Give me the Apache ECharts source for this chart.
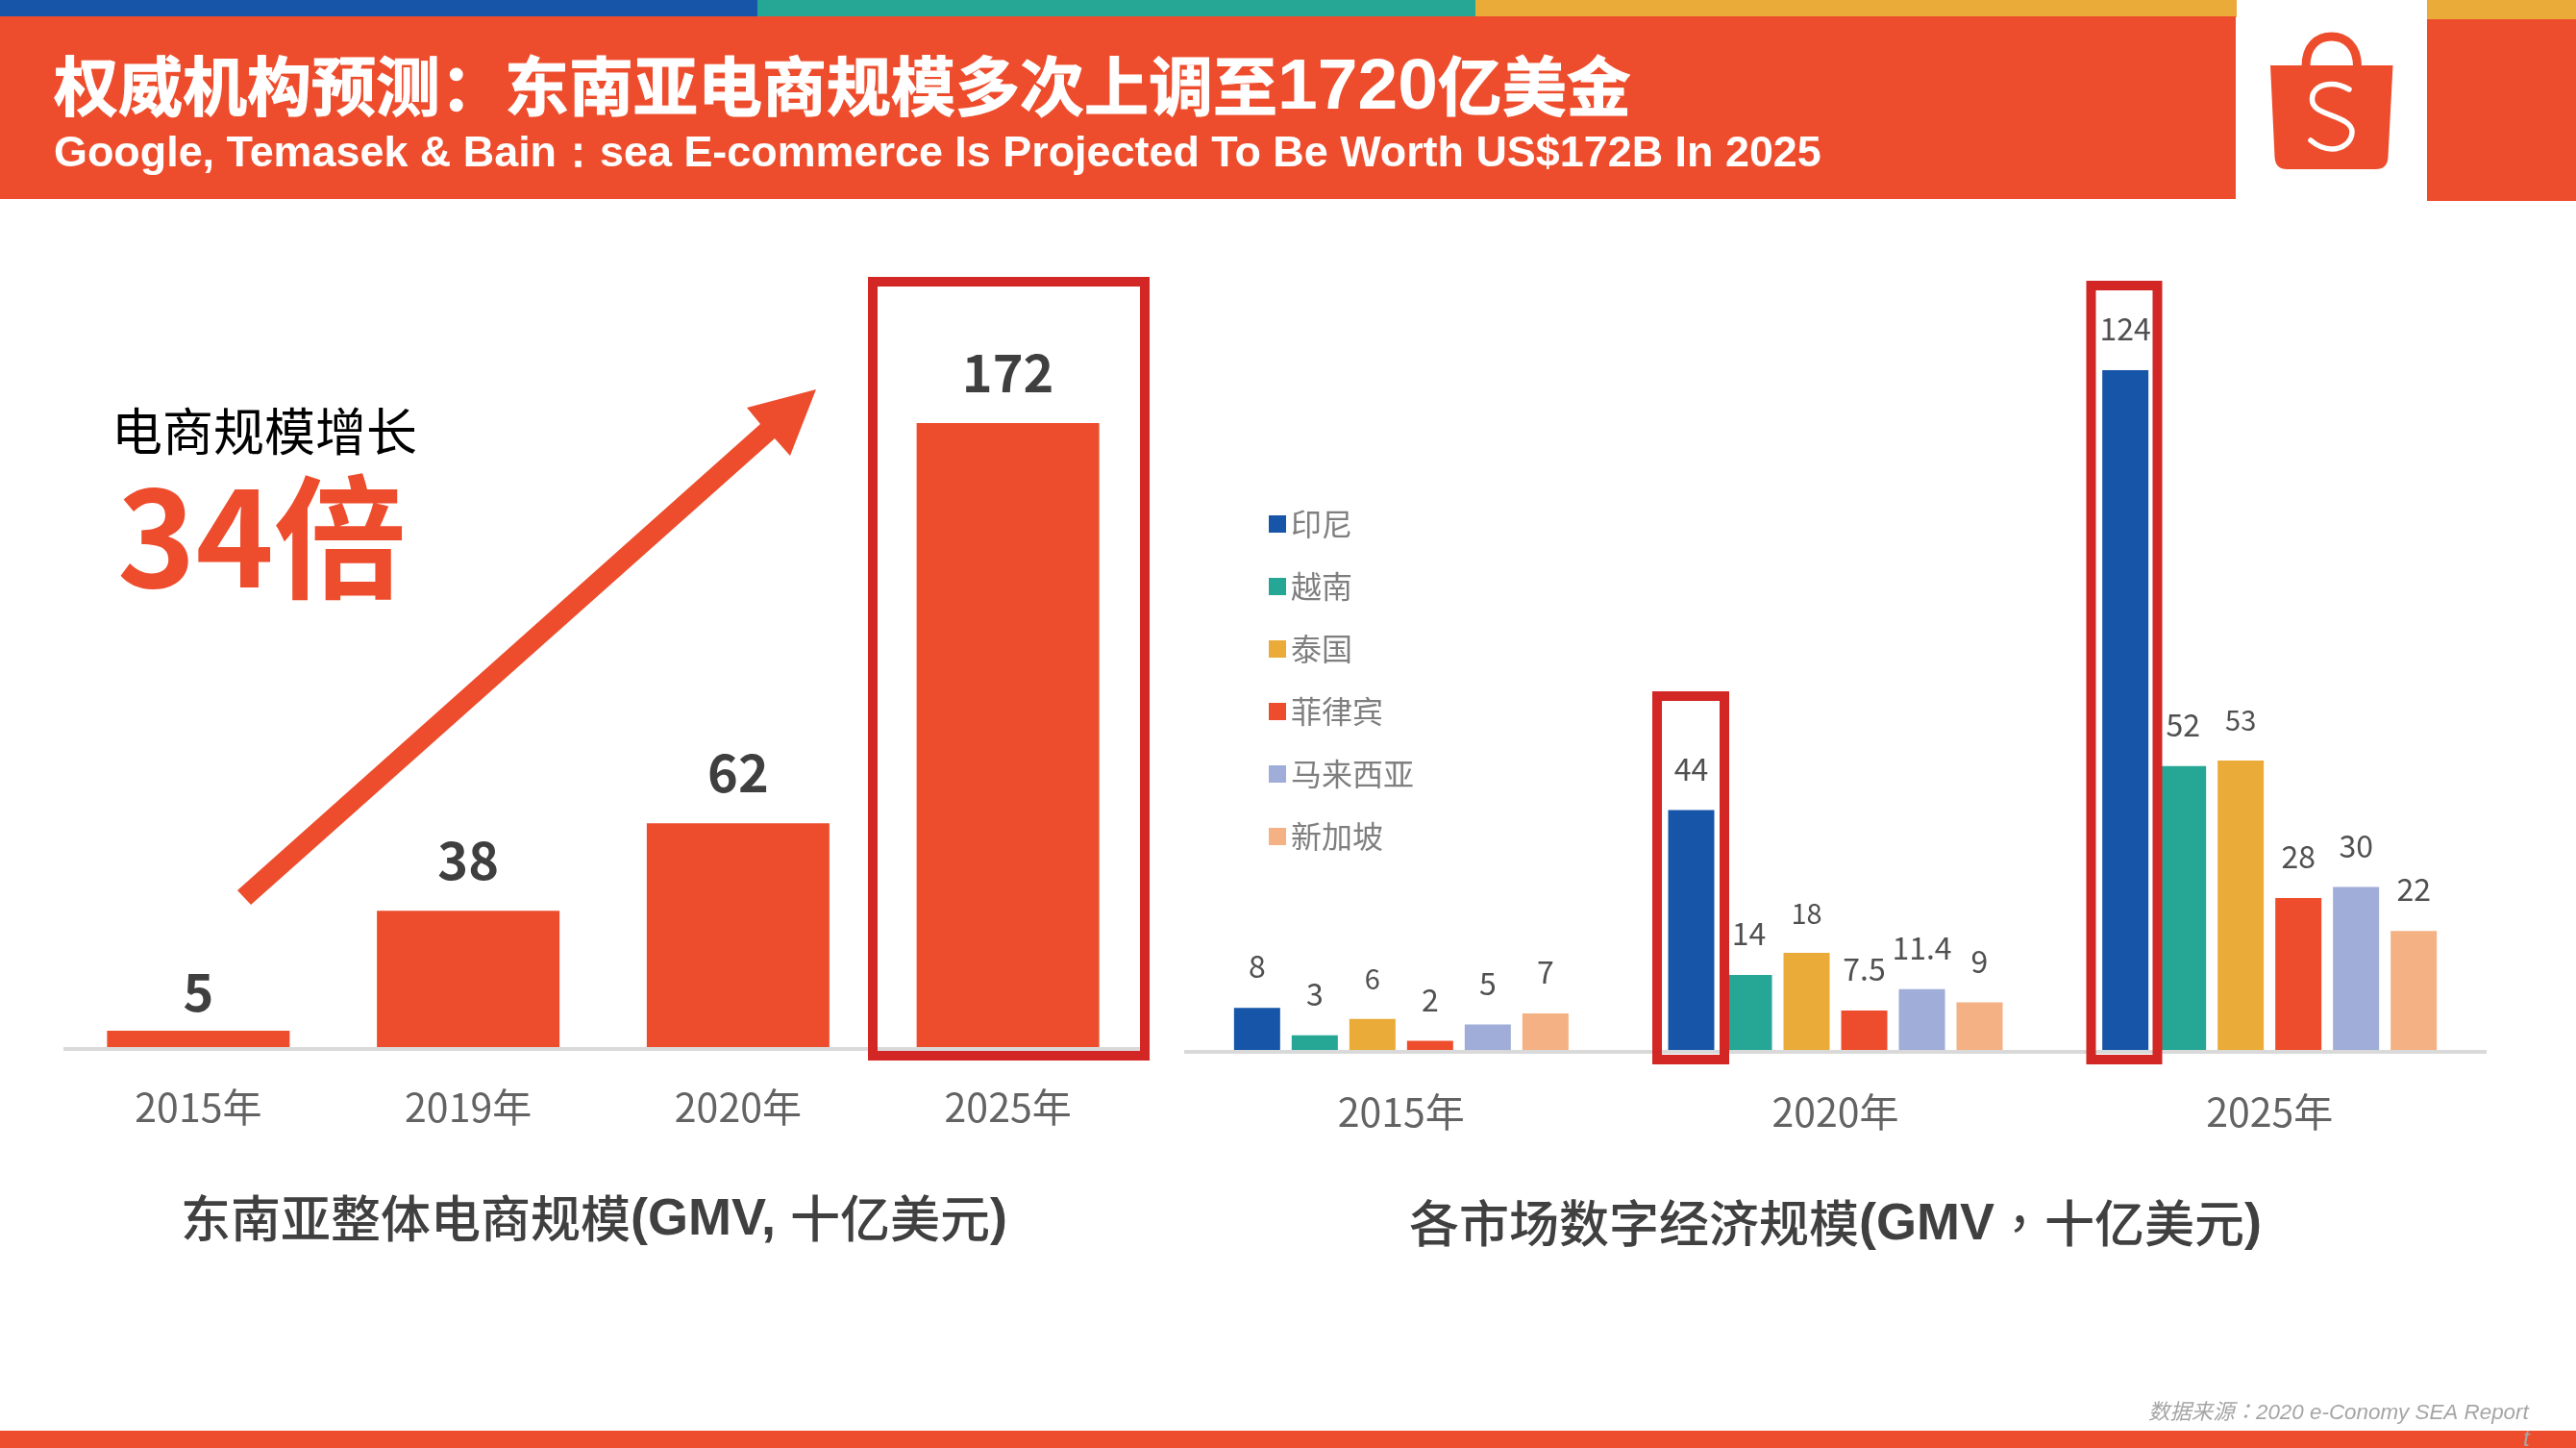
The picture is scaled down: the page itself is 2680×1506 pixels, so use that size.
<!DOCTYPE html>
<html>
<head>
<meta charset="utf-8">
<title>东南亚电商规模</title>
<style>
html, body { margin: 0; padding: 0; background: #fff; }
#chart { width: 2680px; height: 1506px; }
</style>
<script src="https://cdn.jsdelivr.net/npm/echarts@6/dist/echarts.min.js"></script>
</head>
<body>
<div id="chart"></div>
<script>
// left chart
var totalYears = ["2015年", "2019年", "2020年", "2025年"];
var totalValues = [5, 38, 62, 172];

// right chart
var marketYears = ["2015年", "2020年", "2025年"];
var marketNames = ["印尼", "越南", "泰国", "菲律宾", "马来西亚", "新加坡"];
var indonesia = [8, 44, 124];
var vietnam = [3, 14, 52];
var thailand = [6, 18, 53];
var philippines = [2, 7.5, 28];
var malaysia = [5, 11.4, 30];
var singapore = [7, 9, 22];
var marketValues = [indonesia, vietnam, thailand, philippines, malaysia, singapore];

var ORANGE = "#EE4D2D";
var RED = "#D22724";
var marketColors = ["#1755A8", "#26A695", "#EAAB38", ORANGE, "#9FADD8", "#F4B184"];
var CJK = '"Noto Sans CJK SC", "Noto Sans", sans-serif';
var LATIN = '"Liberation Sans", Arial, sans-serif';

var myChart = echarts.init(document.getElementById("chart"), null, {renderer: "canvas", width: 2680, height: 1506});

var box = function (x, y, w, h, color, z) {
    return {type: "rect", z: z || 1, silent: true, shape: {x: x, y: y, width: w, height: h}, style: {fill: color}};
};
var frame = function (x, y, w, h) {
    return {type: "rect", z: 20, silent: true, shape: {x: x, y: y, width: w, height: h},
        style: {fill: "none", stroke: RED, lineWidth: 10}};
};
var label = function (x, y, text, style, z) {
    var s = {x: x, y: y, text: text, verticalAlign: "middle", align: "left"};
    for (var k in style) { s[k] = style[k]; }
    return {type: "text", z: z || 15, silent: true, style: s};
};

var captionRich = {
    a: {fontFamily: CJK, fontSize: 52, fill: "#404040", fontWeight: 500},
    b: {fontFamily: LATIN, fontSize: 54, fill: "#404040", fontWeight: "bold", padding: [5, 0, 0, 0]},
    c: {fontFamily: '"Noto Sans CJK TC"', fontSize: 52, fill: "#404040"}
};

var graphics = [
    // header bands
    box(0, 0, 788, 17, "#1755A8"),
    box(788, 0, 747, 17, "#26A695"),
    box(1535, 0, 792, 18, "#EAAB38"),
    box(2525, 0, 155, 20, "#EAAB38"),
    box(0, 17, 2326, 190, ORANGE),
    box(2525, 20, 155, 189, ORANGE),
    box(0, 1488, 2680, 18, ORANGE),
    label(56, 90, "{a|权威机构预测：东南亚电商规模多次上调至}{b|1720}{a|亿美金}", {rich: {
        a: {fontFamily: CJK, fontSize: 67, fontWeight: "bold", fill: "#fff", stroke: "#fff", lineWidth: 1},
        b: {fontFamily: LATIN, fontSize: 75, fontWeight: "bold", fill: "#fff", padding: [5, 0, 0, 0]}
    }}),
    label(56, 161, "Google, Temasek & Bain：sea E-commerce Is Projected To Be Worth US$172B In 2025",
        {fontFamily: LATIN, fontSize: 44.9, fontWeight: "bold", fill: "#fff"}),

    // growth callout
    label(116, 449, "电商规模增长", {fontFamily: CJK, fontSize: 53, fill: "#000"}),
    label(122, 559, "34倍", {fontFamily: CJK, fontSize: 138, fontWeight: "bold", fill: ORANGE}),
    {type: "polygon", z: 15, silent: true, style: {fill: ORANGE}, shape: {points: [
        [247, 926], [261, 941], [806, 456], [822, 474], [849, 405], [777, 424], [791, 441]
    ]}},

    // highlight frames
    frame(908, 293, 283, 805),
    frame(1724, 724, 70, 378),
    frame(2175.5, 297, 69, 805),

    // chart captions
    label(188, 1267, "{a|东南亚整体电商规模}{b|(GMV, }{a|十亿美元}{b|)}", {rich: captionRich}),
    label(1466, 1272, "{a|各市场数字经济规模}{b|(GMV}{c|，}{a|十亿美元}{b|)}", {rich: captionRich}),

    // source note
    label(2235, 1470, "数据来源：2020 e-Conomy SEA Report",
        {fontFamily: LATIN + ', "Noto Sans CJK TC"', fontSize: 22.4, fontStyle: "italic", fill: "#A6A6A6"}),
    label(2625, 1497, "t", {fontFamily: LATIN, fontSize: 24, fontStyle: "italic", fill: "#A6A6A6"})
];

var categoryAxis = function (grid, data, margin) {
    return {
        type: "category",
        gridIndex: grid,
        data: data,
        z: 5,
        axisLine: {show: true, lineStyle: {color: "#D9D9D9", width: 4, cap: "butt"}},
        axisTick: {show: false},
        axisLabel: {color: "#636363", fontSize: 41, fontFamily: CJK, margin: margin, interval: 0}
    };
};
var valueAxis = function (grid, max) {
    return {type: "value", gridIndex: grid, min: 0, max: max, show: false, splitLine: {show: false}};
};

var series = [{
    name: "东南亚整体电商规模",
    type: "bar",
    xAxisIndex: 0,
    yAxisIndex: 0,
    barWidth: 190,
    // the 5 sits closer to its short bar in the picture
    data: totalValues.map(function (v) {
        return v === 5 ? {value: v, label: {distance: 14}} : v;
    }),
    itemStyle: {color: ORANGE},
    label: {show: true, position: "top", distance: 26, color: "#3F3F3F", fontSize: 54, fontWeight: "bold", fontFamily: CJK}
}];

// these three labels are set a little smaller in the picture
var smallLabels = [6, 18, 53];
for (var i = 0; i < marketNames.length; i++) {
    series.push({
        name: marketNames[i],
        type: "bar",
        xAxisIndex: 1,
        yAxisIndex: 1,
        barWidth: 48,
        barGap: "25%",
        itemStyle: {color: marketColors[i]},
        data: marketValues[i].map(function (v) {
            return smallLabels.indexOf(v) >= 0 ? {value: v, label: {fontSize: 29}} : v;
        }),
        label: {show: true, position: "top", distance: 27, color: "#505050", fontSize: 32, fontFamily: CJK}
    });
}

// shopee bag, graphic component has no free path so it goes through a custom series
series.push({
    name: "logo",
    type: "custom",
    coordinateSystem: "none",
    silent: true,
    data: [0],
    renderItem: function () {
        return {type: "group", children: [
            {type: "path", shape: {pathData: "M2362 68 L2489.5 68 L2484.5 163 Q2484 176 2471.5 176 L2379.5 176 Q2367 176 2366.5 163 Z"},
                style: {fill: ORANGE}},
            {type: "path", shape: {pathData: "M2399 69 C2399 48 2411 38 2425.7 38 C2440 38 2452.5 48 2452.5 69"},
                style: {fill: "none", stroke: ORANGE, lineWidth: 9}},
            {type: "path", shape: {pathData: "M2444 93 C2437 89 2432 87.5 2426 87.5 C2413 87.5 2405.5 94 2405.5 103 C2405.5 112 2413 115 2423 119 C2436 124 2447 128 2447 137 C2447 148 2437 155 2426 155 C2418 155 2411 152 2404 146"},
                style: {fill: "none", stroke: "#fff", lineWidth: 5.5, lineCap: "round"}}
        ]};
    }
});

myChart.setOption({
    animation: false,
    backgroundColor: "#fff",
    legend: {
        data: marketNames,
        orient: "vertical",
        left: 1320,
        top: 529,
        padding: 0,
        itemWidth: 18,
        itemHeight: 18,
        itemGap: 33,
        icon: "rect",
        textStyle: {color: "#7F7F7F", fontSize: 32, fontFamily: CJK}
    },
    grid: [
        {left: 66, top: 440, width: 1123, height: 651},
        {left: 1232, top: 385, width: 1355, height: 709}
    ],
    xAxis: [categoryAxis(0, totalYears, 40), categoryAxis(1, marketYears, 42)],
    yAxis: [valueAxis(0, 172), valueAxis(1, 124)],
    series: series,
    graphic: graphics
});
</script>
</body>
</html>
